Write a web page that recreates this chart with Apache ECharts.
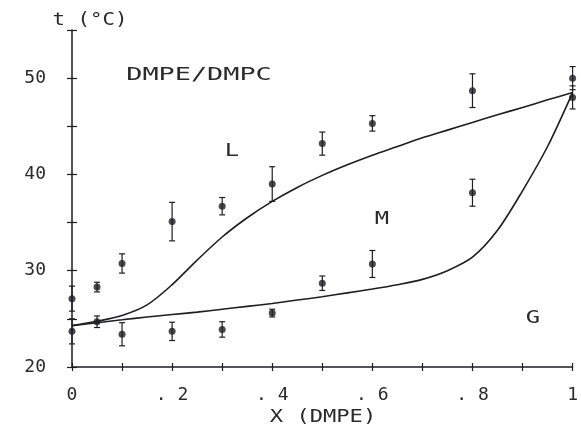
<!DOCTYPE html>
<html>
<head>
<meta charset="utf-8">
<script src="https://cdn.jsdelivr.net/npm/echarts@6/dist/echarts.min.js"></script>
<style>
  html, body { margin: 0; padding: 0; background: #ffffff; }
  #chart { width: 581px; height: 430px; }
</style>
</head>
<body>
<div id="chart"></div>
<script>
// ---- data ----
const xTicks = [0, 0.1, 0.2, 0.3, 0.4, 0.5, 0.6, 0.7, 0.8, 0.9, 1];
const yTicks = [20, 25, 30, 35, 40, 45, 50, 55];

// measured points (upper set: liquidus onset, lower set: solidus onset)
const pointX   = [0, 0.05, 0.1, 0.2, 0.3, 0.4, 0.5, 0.6, 0.8, 1.0];
const upperT   = [27.1, 28.3, 30.75, 35.1, 36.7, 39.0, 43.2, 45.3, 48.7, 50.0];
const upperErr = [1.3, 0.5, 1.0, 2.0, 0.9, 1.8, 1.2, 0.8, 1.75, 1.2];
const lowerT   = [23.7, 24.7, 23.4, 23.7, 23.9, 25.6, 28.7, 30.7, 38.1, 48.0];
const lowerErr = [1.3, 0.6, 1.2, 0.95, 0.8, 0.4, 0.75, 1.4, 1.4, 1.2];

// fitted phase boundaries
const curveX    = [0, 0.05, 0.1, 0.15, 0.2, 0.25, 0.3, 0.35, 0.4, 0.45, 0.5, 0.55, 0.6, 0.65, 0.7, 0.75, 0.8, 0.85, 0.9, 0.95, 1.0];
const liquidusT = [24.3, 24.75, 25.35, 26.45, 28.55, 31.1, 33.5, 35.5, 37.2, 38.65, 39.9, 41.0, 42.0, 42.9, 43.8, 44.6, 45.4, 46.2, 46.95, 47.75, 48.5];
const solidusT  = [24.3, 24.6, 24.9, 25.2, 25.45, 25.7, 26.0, 26.3, 26.6, 26.95, 27.3, 27.7, 28.1, 28.55, 29.1, 30.0, 31.4, 34.2, 38.3, 42.9, 48.5];

const INK = '#1d1d24';
const TXT = '#2a2a2a';
const FONT = '"DejaVu Sans Mono", "Liberation Mono", monospace';

function zipPairs(xs, ys) { return xs.map((x, i) => [x, ys[i]]); }
function errRows(xs, ys, es) { return xs.map((x, i) => [x, ys[i] - es[i], ys[i] + es[i]]); }

function fmtX(v) {
  if (Math.abs(v) < 1e-9) return '0';
  if (Math.abs(v - 1) < 1e-9) return '1';
  const r = Math.round(v * 10);
  if (r % 2 !== 0) return '';
  return '. ' + r;
}
function fmtY(v) { return (v % 10 === 0 && v < 55) ? String(v) : ''; }

const errorBarItem = function (params, api) {
  const x = api.value(0);
  const lo = api.coord([x, api.value(1)]);
  const hi = api.coord([x, api.value(2)]);
  const cap = 3;
  const st = { stroke: INK, lineWidth: 1.2 };
  return {
    type: 'group',
    children: [
      { type: 'line', shape: { x1: lo[0], y1: lo[1], x2: hi[0], y2: hi[1] }, style: st },
      { type: 'line', shape: { x1: hi[0] - cap, y1: hi[1], x2: hi[0] + cap, y2: hi[1] }, style: st },
      { type: 'line', shape: { x1: lo[0] - cap, y1: lo[1], x2: lo[0] + cap, y2: lo[1] }, style: st }
    ]
  };
};

const chart = echarts.init(document.getElementById('chart'), null, { renderer: 'canvas' });

const axisBaseX = {
  type: 'value', min: 0, max: 1, interval: 0.1,
  splitLine: { show: false }
};
const axisBaseY = {
  type: 'value', min: 20, max: 55, interval: 5,
  splitLine: { show: false }
};

const option = {
  backgroundColor: '#ffffff',
  animation: false,
  grid: { left: 72, right: 6, top: 30, bottom: 63, containLabel: false },
  xAxis: [
    Object.assign({}, axisBaseX, {
      position: 'bottom',
      axisLine: { show: true, onZero: false, lineStyle: { color: INK, width: 1.5 } },
      axisTick: { show: true, inside: false, length: 4, lineStyle: { color: INK, width: 1.2 } },
      axisLabel: {
        show: true, margin: 19, color: TXT, fontFamily: FONT, fontSize: 18,
        formatter: fmtX, showMinLabel: true, showMaxLabel: true
      }
    }),
    Object.assign({}, axisBaseX, {
      position: 'bottom',
      axisLine: { show: false, onZero: false },
      axisTick: { show: true, inside: true, length: 4, lineStyle: { color: INK, width: 1.2 } },
      axisLabel: { show: false }
    })
  ],
  yAxis: [
    Object.assign({}, axisBaseY, {
      position: 'left',
      axisLine: { show: true, onZero: false, lineStyle: { color: INK, width: 1.5 } },
      axisTick: { show: true, inside: false, length: 5, lineStyle: { color: INK, width: 1.2 } },
      axisLabel: {
        show: true, margin: 26, color: TXT, fontFamily: FONT, fontSize: 18,
        formatter: fmtY, showMinLabel: true, showMaxLabel: true
      }
    }),
    Object.assign({}, axisBaseY, {
      position: 'left',
      axisLine: { show: false, onZero: false },
      axisTick: { show: true, inside: true, length: 5, lineStyle: { color: INK, width: 1.2 } },
      axisLabel: { show: false }
    })
  ],
  series: [
    {
      name: 'liquidus', type: 'line', data: zipPairs(curveX, liquidusT),
      smooth: 0.3, showSymbol: false, symbol: 'none',
      lineStyle: { color: INK, width: 1.6 }, z: 3
    },
    {
      name: 'solidus', type: 'line', data: zipPairs(curveX, solidusT),
      smooth: 0.3, showSymbol: false, symbol: 'none',
      lineStyle: { color: INK, width: 1.6 }, z: 3
    },
    {
      name: 'upper error', type: 'custom', renderItem: errorBarItem,
      data: errRows(pointX, upperT, upperErr), encode: { x: 0, y: [1, 2] }, z: 4
    },
    {
      name: 'lower error', type: 'custom', renderItem: errorBarItem,
      data: errRows(pointX, lowerT, lowerErr), encode: { x: 0, y: [1, 2] }, z: 4
    },
    {
      name: 'upper points', type: 'scatter', data: zipPairs(pointX, upperT),
      symbol: 'circle', symbolSize: 7, itemStyle: { color: INK }, z: 5
    },
    {
      name: 'lower points', type: 'scatter', data: zipPairs(pointX, lowerT),
      symbol: 'circle', symbolSize: 7, itemStyle: { color: INK }, z: 5
    }
  ],
  graphic: [
    { type: 'text', x: 90, y: 21, scaleX: 1.22,
      style: { text: 't (°C)', font: '17px ' + FONT, fill: TXT, align: 'center', verticalAlign: 'middle' } },
    { type: 'text', x: 199, y: 76, scaleX: 1.58,
      style: { text: 'DMPE/DMPC', font: '17px ' + FONT, fill: TXT, align: 'center', verticalAlign: 'middle' } },
    { type: 'text', x: 232, y: 152, scaleX: 1.4,
      style: { text: 'L', font: '17px ' + FONT, fill: TXT, align: 'center', verticalAlign: 'middle' } },
    { type: 'text', x: 382, y: 220, scaleX: 1.4,
      style: { text: 'M', font: '17px ' + FONT, fill: TXT, align: 'center', verticalAlign: 'middle' } },
    { type: 'text', x: 533, y: 319, scaleX: 1.4,
      style: { text: 'G', font: '17px ' + FONT, fill: TXT, align: 'center', verticalAlign: 'middle' } },
    { type: 'text', x: 323, y: 418, scaleX: 1.3,
      style: { text: 'X (DMPE)', font: '17px ' + FONT, fill: TXT, align: 'center', verticalAlign: 'middle' } }
  ]
};

chart.setOption(option);
</script>
</body>
</html>
